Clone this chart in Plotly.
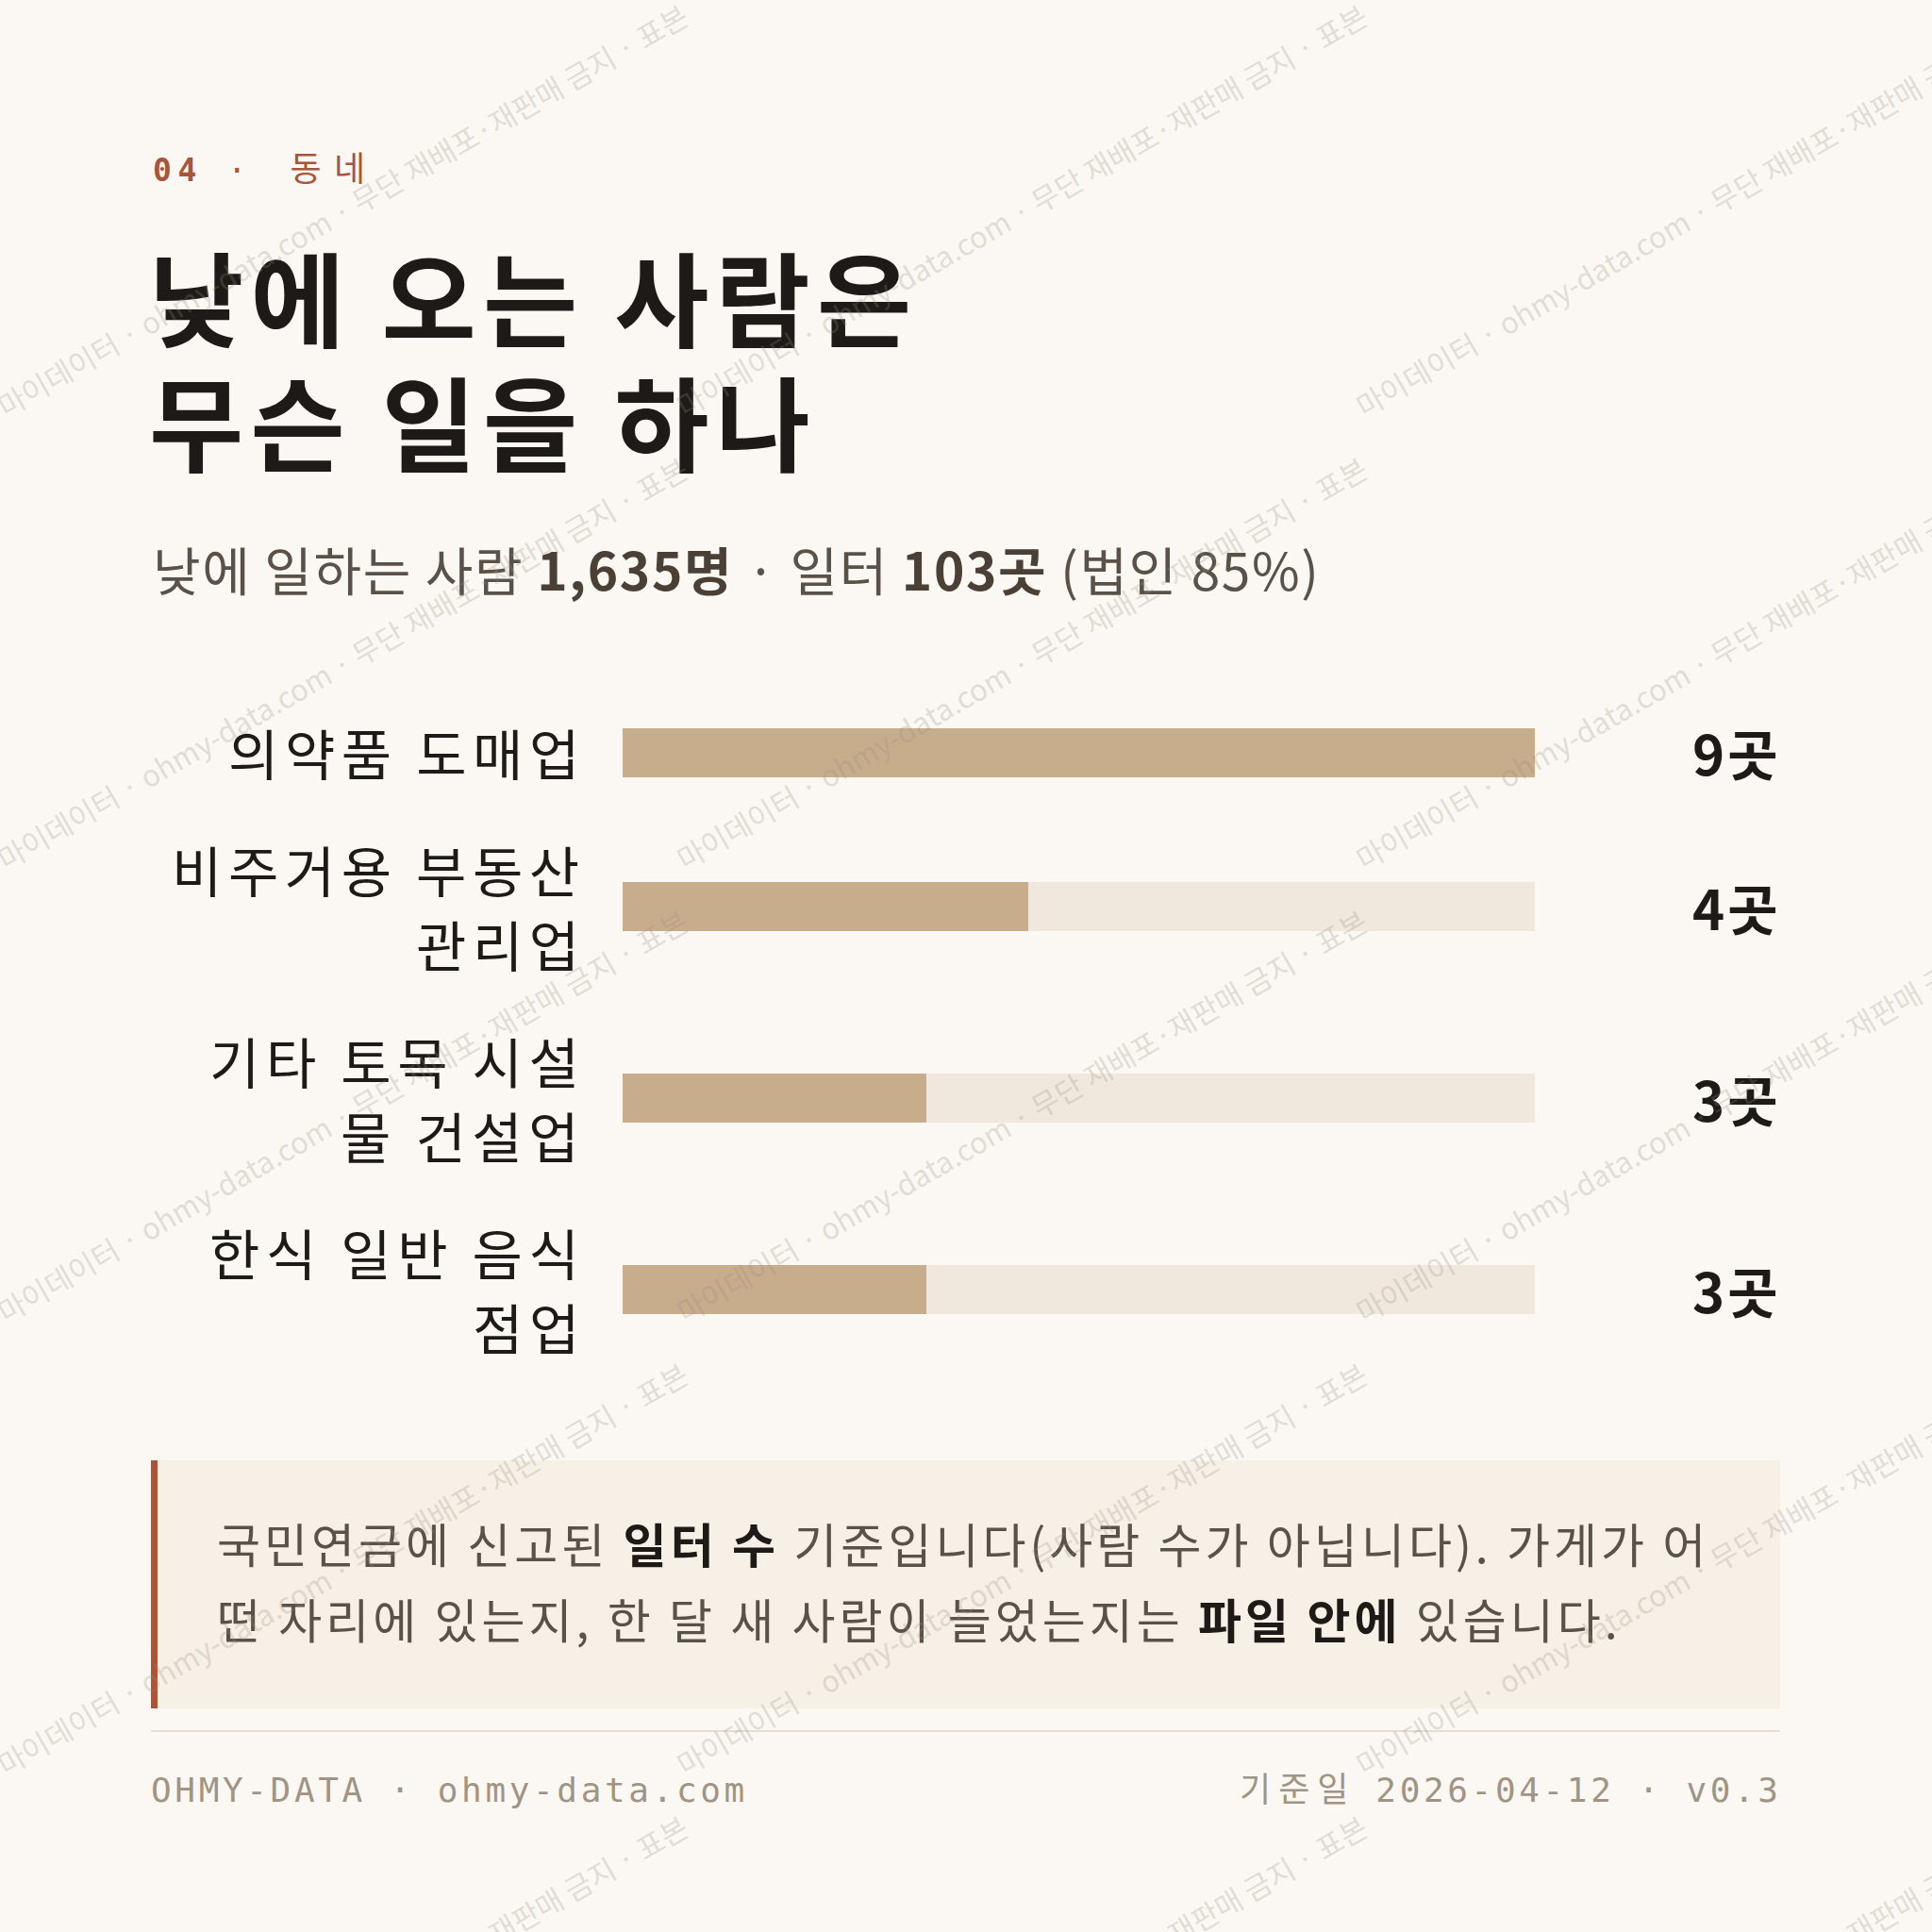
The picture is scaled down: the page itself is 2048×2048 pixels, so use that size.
import plotly.graph_objects as go

# ---------------- data ----------------
categories = ["의약품 도매업", "비주거용 부동산 관리업", "기타 토목 시설물 건설업", "한식 일반 음식점업"]
label_lines = [["의약품 도매업"], ["비주거용 부동산", "관리업"], ["기타 토목 시설", "물 건설업"], ["한식 일반 음식", "점업"]]
counts = [9, 4, 3, 3]
unit = "곳"

total_people = 1635
total_sites = 103
corp_share = 85

kicker_num = "04"
kicker_txt = "동네"
title_lines = ["낮에 오는 사람은", "무슨 일을 하나"]
note_lines = [
    [("국민연금에 신고된 ", False), ("일터 수", True), (" 기준입니다(사람 수가 아닙니다). 가게가 어", False)],
    [("떤 자리에 있는지, 한 달 새 사람이 늘었는지는 ", False), ("파일 안에", True), (" 있습니다.", False)],
]
footer_left = "OHMY-DATA · ohmy-data.com"
footer_right_label = "기준일"
footer_right = "2026-04-12 · v0.3"
watermark = "마이데이터 · ohmy-data.com · 무단 재배포·재판매 금지 · 표본"

# ---------------- style ----------------
W = H = 2048
BG = "#FBF8F3"
INK = "#1E1A17"
SUB = "#5A5248"
SUB_B = "#4A4036"
ACCENT = "#A8553A"
BAR = "#C8AD8C"
TRACK = "#F0E8DC"
NOTE_BG = "#F7F0E6"
RULE = "#E6DFD0"
FOOT = "#A09484"
KR = "Noto Sans CJK KR, Noto Sans, sans-serif"
MONO = "DejaVu Sans Mono, Noto Sans CJK KR, monospace"


def px(x):
    return x / W


def py(y):
    return 1 - y / H


def spacer(gap, space_em):
    if gap <= 0:
        return ""
    return '<span style="font-size:%.1fpx"> </span>' % (gap / space_em)


def spaced(segments, gap, space_em):
    """letter-spaced rich text; segments = list of (text, bold[, color])."""
    sp = spacer(gap, space_em)
    parts = []
    for seg in segments:
        text, bold = seg[0], seg[1]
        s = sp.join(text)
        if len(seg) > 2:
            s = '<span style="color:%s">%s</span>' % (seg[2], s)
        parts.append("<b>%s</b>" % s if bold else s)
    return sp.join(parts)


def kr(segments, gap):
    return spaced(segments, gap, 0.224)


def mono(segments, gap):
    return spaced(segments, gap, 0.602)


# row geometry derived from number of label lines
LINE_H = 79
ROW_GAP = 45
BAR_W = 52
heights = [len(l) * LINE_H for l in label_lines]
centers = []
y = 0
for h in heights:
    centers.append(y + h / 2)
    y += h + ROW_GAP
total_h = y - ROW_GAP
CHART_TOP = 757.5
CHART_LEFT, CHART_RIGHT = 660, 1627

fig = go.Figure()
fig.add_trace(go.Bar(
    x=[max(counts)] * len(counts), y=centers, orientation="h", width=BAR_W,
    marker=dict(color=TRACK, line=dict(width=0)), hoverinfo="skip", showlegend=False))
fig.add_trace(go.Bar(
    x=counts, y=centers, orientation="h", width=BAR_W, customdata=categories,
    marker=dict(color=BAR, line=dict(width=0)), showlegend=False,
    hovertemplate="%{customdata}: %{x}" + unit + "<extra></extra>"))

ann = []
# category labels
for c, lines in zip(centers, label_lines):
    n = len(lines)
    for k, line in enumerate(lines):
        ann.append(dict(x=px(616), xref="paper", xanchor="right",
                        y=c + (k - (n - 1) / 2) * LINE_H, yref="y", yanchor="middle",
                        text=kr([(line, False)], 6.5), showarrow=False,
                        font=dict(family=KR, size=58, color=INK)))
# value labels
for c, v in zip(centers, counts):
    ann.append(dict(x=px(1887), xref="paper", xanchor="right", y=c, yref="y", yanchor="middle",
                    text=kr([("%d%s" % (v, unit), True)], 3), showarrow=False,
                    font=dict(family=KR, size=58, color=INK)))

# kicker
ann.append(dict(x=px(160), y=py(179), xref="paper", yref="paper", xanchor="left", yanchor="middle",
                text=mono([(kicker_num, True), (" · ", False)], 6.5) + spacer(20, 0.602)
                + '<span style="font-size:36px">' + kr([(kicker_txt, False)], 5) + "</span>",
                showarrow=False, font=dict(family=MONO, size=33, color=ACCENT)))
# title
for i, t in enumerate(title_lines):
    ann.append(dict(x=px(156), y=py(312 + 132 * i), xref="paper", yref="paper",
                    xanchor="left", yanchor="middle", text=kr([(t, True)], 7), showarrow=False,
                    font=dict(family=KR, size=109, color=INK)))
# subtitle
sub_segments = [("낮에 일하는 사람 ", False), ("{:,}명".format(total_people), True, SUB_B),
                (" · 일터 ", False), ("{}곳".format(total_sites), True, SUB_B),
                (" (법인 {}%)".format(corp_share), False)]
ann.append(dict(x=px(160), y=py(602), xref="paper", yref="paper", xanchor="left", yanchor="middle",
                text=kr(sub_segments, 1.6), showarrow=False,
                font=dict(family=KR, size=55, color=SUB)))
# note
for i, segs in enumerate(note_lines):
    segs = [(s, b, INK) if b else (s, b) for s, b in segs]
    ann.append(dict(x=px(228), y=py(1635 + 80 * i), xref="paper", yref="paper",
                    xanchor="left", yanchor="middle", text=kr(segs, 4.0), showarrow=False,
                    font=dict(family=KR, size=50, color=SUB)))
# footer
ann.append(dict(x=px(158), y=py(1897), xref="paper", yref="paper", xanchor="left", yanchor="middle",
                text=mono([(footer_left, False)], 3.6), showarrow=False,
                font=dict(family=MONO, size=36, color=FOOT)))
ann.append(dict(x=px(1887), y=py(1897), xref="paper", yref="paper", xanchor="right", yanchor="middle",
                text=mono([(footer_right_label, False)], 8) + spacer(3.6, 0.602) + " "
                + spacer(3.6, 0.602) + mono([(footer_right, False)], 3.6),
                showarrow=False, font=dict(family=MONO, size=36, color=FOOT)))
# watermark tiles
for i in range(3):
    for j in range(5):
        ann.append(dict(x=px(362 + 720 * i), y=py(222 + 480 * j), xref="paper", yref="paper",
                        xanchor="center", yanchor="middle", text=watermark, textangle=-30,
                        showarrow=False,
                        font=dict(family=KR, size=31, color="rgba(150,140,130,0.27)")))

shapes = [
    dict(type="rect", xref="paper", yref="paper", x0=px(160), x1=px(1887), y0=py(1811), y1=py(1548),
         fillcolor=NOTE_BG, line=dict(width=0), layer="below"),
    dict(type="rect", xref="paper", yref="paper", x0=px(160), x1=px(167), y0=py(1811), y1=py(1548),
         fillcolor=ACCENT, line=dict(width=0), layer="below"),
    dict(type="line", xref="paper", yref="paper", x0=px(160), x1=px(1887), y0=py(1835), y1=py(1835),
         line=dict(color=RULE, width=2), layer="below"),
]

fig.update_layout(
    width=W, height=H, margin=dict(l=0, r=0, t=0, b=0),
    paper_bgcolor=BG, plot_bgcolor="rgba(0,0,0,0)",
    barmode="overlay", bargap=0,
    xaxis=dict(domain=[px(CHART_LEFT), px(CHART_RIGHT)], range=[0, max(counts)],
               visible=False, fixedrange=True),
    yaxis=dict(domain=[py(CHART_TOP + total_h), py(CHART_TOP)], range=[total_h, 0],
               visible=False, fixedrange=True),
    annotations=ann, shapes=shapes, showlegend=False,
)

fig.write_html(
    "out.html",
    config={"displayModeBar": False},
    post_script="document.body.style.margin='0';document.body.style.background='%s';" % BG,
)
